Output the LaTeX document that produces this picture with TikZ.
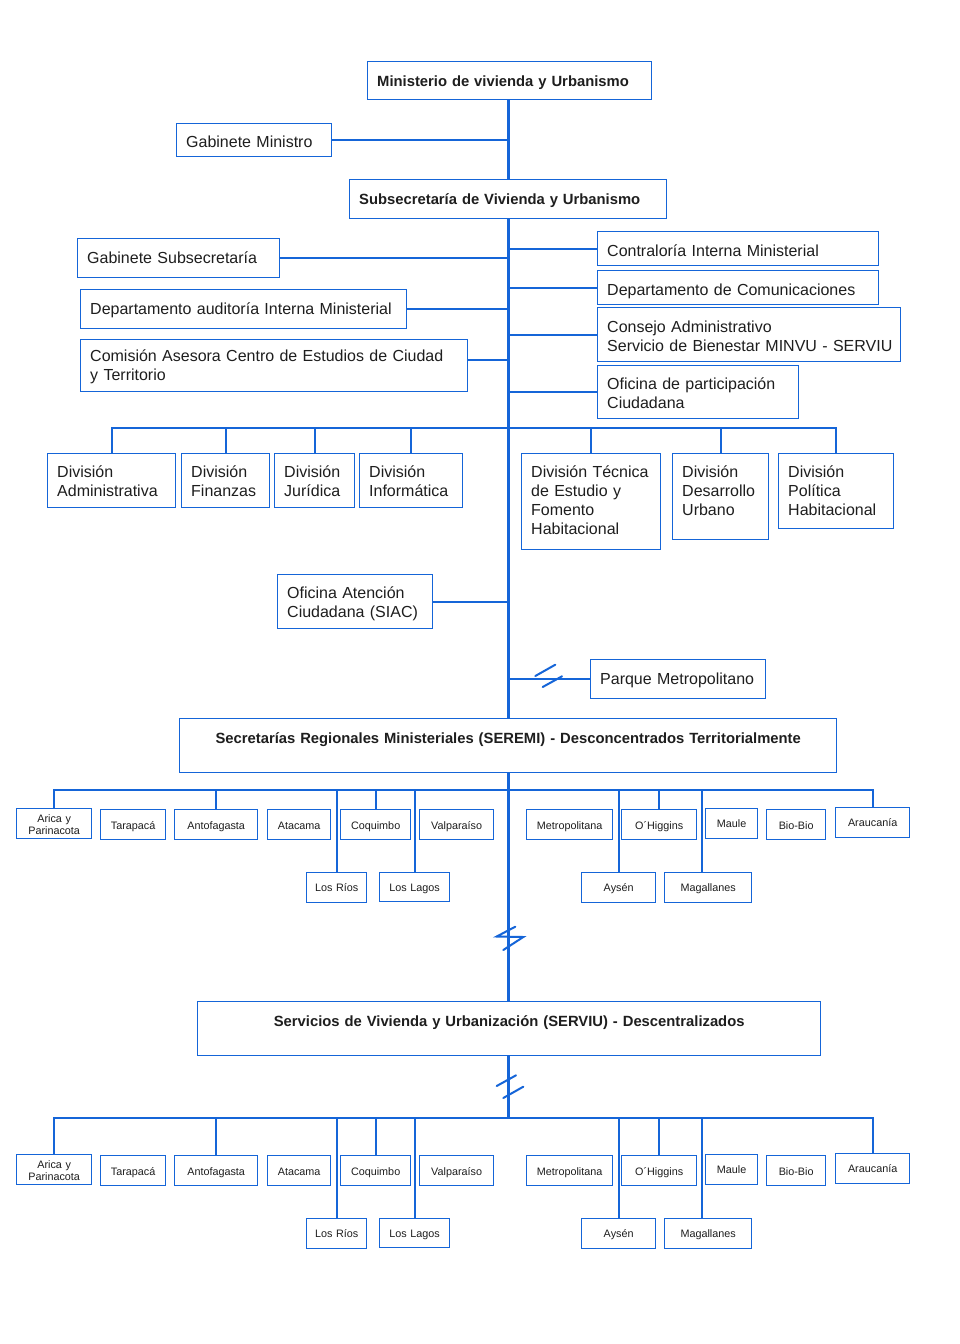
\documentclass[tikz,border=0pt]{standalone}
\usepackage{fontspec}
\setmainfont{Liberation Sans}
\hyphenpenalty=10000
\exhyphenpenalty=10000
\definecolor{lb}{HTML}{1565D8}
\definecolor{tx}{HTML}{1E1E1E}
\tikzset{
  box/.style={draw=lb, line width=1.4pt, fill=white, anchor=north west, inner xsep=9.5pt, inner ysep=0pt, align=left, text=tx, font=\fontsize{16}{19}\selectfont},
  bfbox/.style={font=\fontsize{14.8}{19}\selectfont\bfseries},
  cbox/.style={align=center},
  reg/.style={draw=lb, line width=1.3pt, fill=white, anchor=north west, inner xsep=2pt, inner ysep=0pt, align=center, text=tx, font=\fontsize{10.8}{11.8}\selectfont},
  conn/.style={draw=lb, line width=2pt},
  spineline/.style={draw=lb, line width=2.6pt},
  brk/.style={draw=lb, line width=2pt, line cap=round},
}
% name x1 y1 x2 y2 baseline style text
\newcommand\ob[8]{%
  \pgfmathsetmacro\obw{#4-#2-19}%
  \pgfmathsetmacro\obd{#5-#3-#6}%
  \node[box,#7,text width=\obw pt,text height=#6pt,text depth=\obd pt] (#1) at (#2,#3) {#8};}
% name x1 y1 x2 y2 baseline text
\newcommand\rb[7]{%
  \pgfmathsetmacro\obw{#4-#2-4}%
  \pgfmathsetmacro\obd{#5-#3-#6}%
  \node[reg,text width=\obw pt,text height=#6pt,text depth=\obd pt] (#1) at (#2,#3) {#7};}
\begin{document}
\begin{tikzpicture}[x=1pt,y=-1pt]
\useasboundingbox (0,0) rectangle (960,1344);
\fill[white] (0,0) rectangle (960,1344);
\coordinate (spine) at (508.5,0);

% top part
\ob{min}{367}{61}{651}{99}{25}{bfbox}{Ministerio de vivienda y Urbanismo}
\ob{gmin}{176}{123}{331}{156}{24}{}{Gabinete Ministro}
\ob{sub}{349}{179}{666}{218}{25}{bfbox}{Subsecretaría de Vivienda y Urbanismo}
\ob{gsub}{77}{238}{279}{277}{25}{}{Gabinete Subsecretaría}
\ob{daud}{80}{289}{406}{328}{25}{}{Departamento auditoría Interna Ministerial}
\ob{com}{80}{339}{467}{391}{22}{}{Comisión Asesora Centro de Estudios de Ciudad\\y Territorio}
\ob{cont}{597}{231}{878}{265}{25}{}{Contraloría Interna Ministerial}
\ob{dcom}{597}{270}{878}{304}{25}{}{Departamento de Comunicaciones}
\ob{cons}{597}{307}{900}{361}{25}{}{Consejo Administrativo\\\mbox{Servicio de Bienestar MINVU - SERVIU}}
\ob{ofp}{597}{365}{798}{418}{24}{}{Oficina de participación\\Ciudadana}

% divisions
\ob{dadm}{47}{453}{175}{507}{24}{}{División\\Administrativa}
\ob{dfin}{181}{453}{269}{507}{24}{}{División\\Finanzas}
\ob{djur}{274}{453}{354}{507}{24}{}{División\\Jurídica}
\ob{dinf}{359}{453}{462}{507}{24}{}{División\\Informática}
\ob{dtec}{521}{453}{660}{549}{24}{}{División Técnica\\de Estudio y\\Fomento\\Habitacional}
\ob{ddes}{672}{453}{768}{539}{24}{}{División\\Desarrollo\\Urbano}
\ob{dpol}{778}{453}{893}{528}{24}{}{División\\Política\\Habitacional}

\ob{siac}{277}{574}{432}{628}{24}{}{Oficina Atención\\Ciudadana (SIAC)}
\ob{parque}{590}{659}{765}{698}{25}{}{Parque Metropolitano}

\ob{seremi}{179}{718}{836}{772}{25}{bfbox,cbox}{Secretarías Regionales Ministeriales (SEREMI) - Desconcentrados Territorialmente}
\ob{serviu}{197}{1001}{820}{1055}{25}{bfbox,cbox}{Servicios de Vivienda y Urbanización (SERVIU) - Descentralizados}

% regions under SEREMI
\rb{arica1}{16}{808}{91}{838}{14}{Arica y\\Parinacota}
\rb{tara1}{100}{809}{165}{839}{19.5}{Tarapacá}
\rb{anto1}{174}{809}{257}{839}{19.5}{Antofagasta}
\rb{ataca1}{267}{809}{330}{839}{19.5}{Atacama}
\rb{coq1}{340}{809}{410}{839}{19.5}{Coquimbo}
\rb{valp1}{419}{809}{493}{839}{19.5}{Valparaíso}
\rb{metro1}{526}{809}{612}{839}{19.5}{Metropolitana}
\rb{ohig1}{621}{809}{696}{839}{19.5}{O´Higgins}
\rb{maule1}{705}{808}{757}{838}{19}{Maule}
\rb{bio1}{766}{809}{825}{839}{19.5}{Bio-Bio}
\rb{arau1}{835}{807}{909}{837}{18.7}{Araucanía}
\rb{rios1}{306}{872}{366}{902}{18.7}{Los Ríos}
\rb{lagos1}{379}{872}{449}{901}{18.7}{Los Lagos}
\rb{aysen1}{581}{872}{655}{902}{18.7}{Aysén}
\rb{maga1}{664}{872}{751}{902}{18.7}{Magallanes}

% regions under SERVIU
\rb{arica2}{16}{1154}{91}{1184}{14}{Arica y\\Parinacota}
\rb{tara2}{100}{1155}{165}{1185}{19.5}{Tarapacá}
\rb{anto2}{174}{1155}{257}{1185}{19.5}{Antofagasta}
\rb{ataca2}{267}{1155}{330}{1185}{19.5}{Atacama}
\rb{coq2}{340}{1155}{410}{1185}{19.5}{Coquimbo}
\rb{valp2}{419}{1155}{493}{1185}{19.5}{Valparaíso}
\rb{metro2}{526}{1155}{612}{1185}{19.5}{Metropolitana}
\rb{ohig2}{621}{1155}{696}{1185}{19.5}{O´Higgins}
\rb{maule2}{705}{1154}{757}{1184}{19}{Maule}
\rb{bio2}{766}{1155}{825}{1185}{19.5}{Bio-Bio}
\rb{arau2}{835}{1153}{909}{1183}{18.7}{Araucanía}
\rb{rios2}{306}{1218}{366}{1248}{18.7}{Los Ríos}
\rb{lagos2}{379}{1218}{449}{1247}{18.7}{Los Lagos}
\rb{aysen2}{581}{1218}{655}{1248}{18.7}{Aysén}
\rb{maga2}{664}{1218}{751}{1248}{18.7}{Magallanes}

% coordinates
\coordinate (dbus) at (508.5,428);
\coordinate (bus1) at (508.5,790);
\coordinate (bus2) at (508.5,1118);
\coordinate (comc) at ([yshift=6pt]com.east);
\coordinate (m1) at ([xshift=-6.5pt]maga1.north);
\coordinate (m2) at ([xshift=-6.5pt]maga2.north);

% spine
\draw[spineline] (spine |- min.south) -- (spine |- sub.north);
\draw[spineline] (spine |- sub.south) -- (spine |- seremi.north);
\draw[spineline] (spine |- seremi.south) -- (spine |- serviu.north);
\draw[spineline] (spine |- serviu.south) -- (bus2);

% side connectors
\draw[conn] (gmin.east) -- (gmin.east -| spine);
\draw[conn] (gsub.east) -- (gsub.east -| spine);
\draw[conn] (daud.east) -- (daud.east -| spine);
\draw[conn] (comc) -- (comc -| spine);
\draw[conn] (cont.west) -- (cont.west -| spine);
\draw[conn] (dcom.west) -- (dcom.west -| spine);
\draw[conn] (cons.west) -- (cons.west -| spine);
\draw[conn] (ofp.west) -- (ofp.west -| spine);
\draw[conn] (siac.east) -- (siac.east -| spine);
\draw[conn] (parque.west) -- (parque.west -| spine);

% divisions bus
\draw[conn] (dadm.north) -- (dadm.north |- dbus) -- (dpol.north |- dbus) -- (dpol.north);
\foreach \n in {dfin,djur,dinf,dtec,ddes}{\draw[conn] (\n.north) -- (\n.north |- dbus);}

% region buses
\draw[conn] (arica1.north) -- (arica1.north |- bus1) -- (arau1.north |- bus1) -- (arau1.north);
\foreach \n in {anto1,coq1,ohig1,rios1,lagos1,aysen1}{\draw[conn] (\n.north) -- (\n.north |- bus1);}
\draw[conn] (m1) -- (m1 |- bus1);
\draw[conn] (arica2.north) -- (arica2.north |- bus2) -- (arau2.north |- bus2) -- (arau2.north);
\foreach \n in {anto2,coq2,ohig2,rios2,lagos2,aysen2}{\draw[conn] (\n.north) -- (\n.north |- bus2);}
\draw[conn] (m2) -- (m2 |- bus2);

% break marks
\draw[brk] (535.3,676) -- (555.3,664.7);
\draw[brk] (542.7,687) -- (562,676.3);
\draw[brk] (515.3,926.7) -- (496.7,936.5) -- (523.3,937) -- (503.3,950);
\draw[brk] (496.7,1086) -- (516,1075.3);
\draw[brk] (503.3,1098) -- (523.3,1086.7);
\end{tikzpicture}
\end{document}
